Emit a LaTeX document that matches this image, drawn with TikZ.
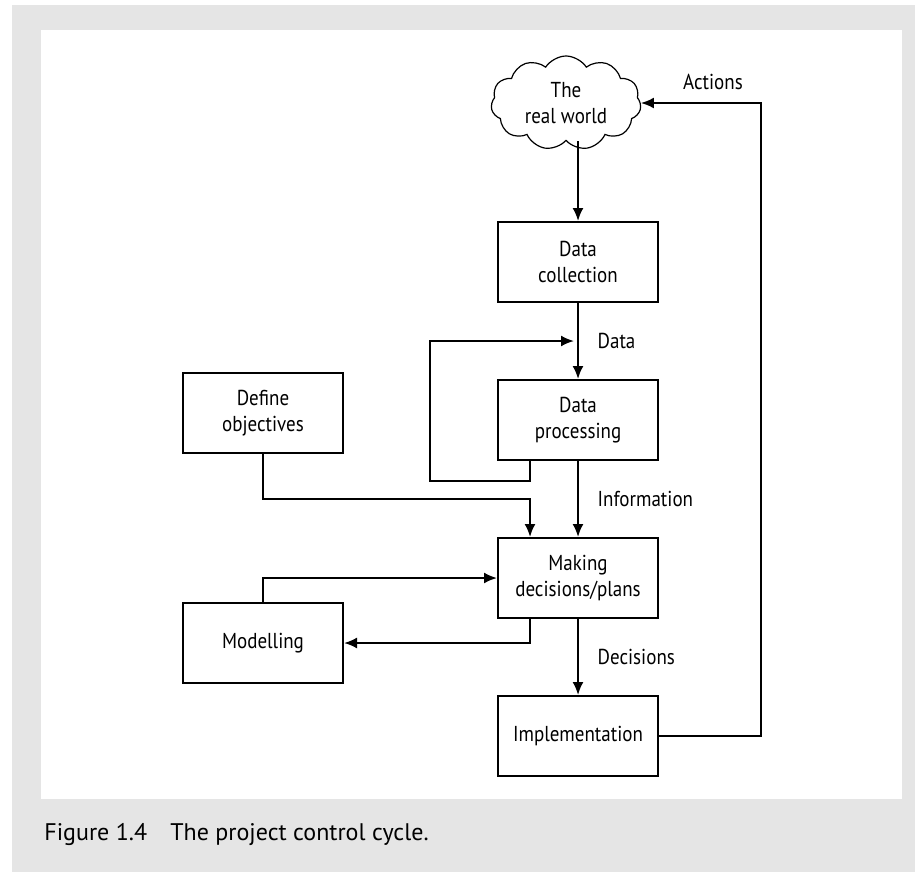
\documentclass[tikz,border=0pt]{standalone}
\usepackage{fontspec}
\setmainfont[FakeStretch=0.88]{PT Sans}
\newfontfamily\capfont{PT Sans}
\usepackage{tikz}
\usetikzlibrary{
    shapes.symbols,
    arrows.meta,
    positioning,
    calc
}
\definecolor{panelgray}{RGB}{229,229,229}
\tikzstyle{stepbox} = [
    rectangle,
    draw,
    line width=1pt,
    minimum width=80pt,
    minimum height=40pt,
    align=center,
    font=\fontsize{10.8}{12.8}\selectfont
]
\tikzstyle{arrow} = [
    -{Latex[length=6.5pt,width=5.5pt]},
    line width=1pt
]

\begin{document}
\begin{tikzpicture}[
    x=0.5pt, y=-0.5pt,
    node distance=38pt,
    lbl/.style={font=\fontsize{10.8}{12.8}\selectfont},
    worldcloud/.style={cloud, draw, line width=0.6pt, cloud puffs=11, cloud puff arc=115, aspect=1.5, minimum width=75pt, minimum height=47pt, inner sep=0pt, align=center, font=\fontsize{10.8}{12.8}\selectfont},
    captext/.style={anchor=base west, inner sep=0pt, font=\capfont\fontsize{12}{14}\selectfont}
]
    % Panel
    \useasboundingbox (0,0) rectangle (915,872);
    \fill[white] (0,0) rectangle (915,872);
    \fill[panelgray] (12,5) rectangle (915,872);
    \fill[white] (41,30) rectangle (902,799);

    % The real world
    \node[worldcloud] (world) at (566,103) {The\\real world};

    % Main column
    \node[stepbox] (collect) at (578,262) {Data\\collection};
    \node[stepbox, below=of collect] (process) {Data\\processing};
    \node[stepbox, below=of process] (decide) {Making\\decisions/plans};
    \node[stepbox, below=of decide] (implement) {Implementation};

    % Side boxes
    \node[stepbox] (define) at (263,413) {Define\\objectives};
    \node[stepbox] (model) at (263,643) {Modelling};

    % Arrows
    \draw[arrow] (collect.north |- world.south) -- (collect.north);
    \draw[arrow] (collect) -- coordinate[midway] (datamid) (process) node[lbl, midway, right=6pt] {Data};
    \draw[arrow] ([xshift=-24pt]process.south) -- ++(0,20) -| ([xshift=-74pt]datamid) -- ([xshift=-2pt]datamid);
    \draw[arrow] (process) -- (decide) node[lbl, midway, right=6pt] {Information};
    \draw[arrow] (define.south) -- ++(0,45) -| ([xshift=-24pt]decide.north);
    \draw[arrow] (model.north) |- (decide.west);
    \draw[arrow] ([xshift=-24pt]decide.south) |- (model.east);
    \draw[arrow] (decide) -- (implement) node[lbl, midway, right=6pt] {Decisions};
    \draw[arrow] (implement.east) -- ++(102,0) |- (world.east) node[lbl, pos=0.70, above=3pt] {Actions};

    % Caption
    \node[captext] (fignum) at (44,840) {Figure 1.4};
    \node[captext] (figtitle) at (170,840) {The project control cycle.};

\end{tikzpicture}
\end{document}
